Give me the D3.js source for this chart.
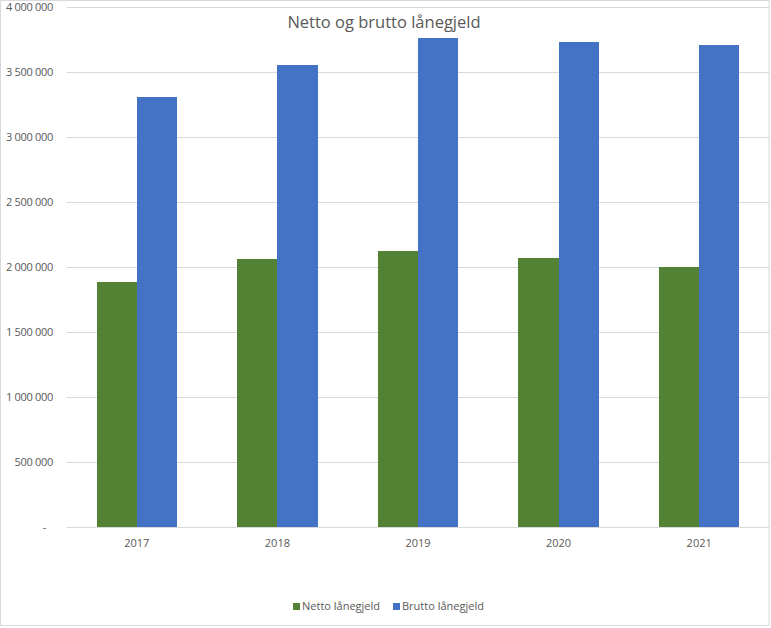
<!DOCTYPE html>
<html>
<head>
<meta charset="utf-8">
<script src="https://cdn.jsdelivr.net/npm/d3@7"></script>
<style>
  html, body { margin: 0; padding: 0; background: #fff; }
  svg { display: block; }
  text { font-family: "Open Sans", "Noto Sans", sans-serif; fill: #595959; }
</style>
</head>
<body>
<svg id="chart" width="771" height="628"></svg>
<script>
const years = ["2017", "2018", "2019", "2020", "2021"];
const netto = [1885000, 2062000, 2123000, 2069000, 2002000];
const brutto = [3308000, 3554000, 3762000, 3731000, 3706000];
const seriesNames = ["Netto lånegjeld", "Brutto lånegjeld"];
const seriesColors = ["#548235", "#4472c4"];
const yTicks = [0, 500000, 1000000, 1500000, 2000000, 2500000, 3000000, 3500000, 4000000];
const chartTitle = "Netto og brutto lånegjeld";

const svg = d3.select("#chart");
const plot = { left: 66.5, right: 769.5, top: 7, bottom: 527 };

// chart border
svg.append("rect")
  .attr("x", 0.5).attr("y", 0.5)
  .attr("width", 768.5).attr("height", 625)
  .attr("fill", "#fff").attr("stroke", "#d9d9d9").attr("stroke-width", 1);

const x0 = d3.scaleBand().domain(years).range([plot.left, plot.right]).paddingInner(0).paddingOuter(0);
const x1 = d3.scaleBand().domain([0, 1]).range([0, x0.bandwidth()]).paddingInner(0).paddingOuter(0.75);
const y = d3.scaleLinear().domain([0, 4000000]).range([plot.bottom, plot.top]);

const fmt = v => v === 0 ? "-" : d3.format(",")(v).replace(/,/g, " ");

// gridlines
svg.append("g").selectAll("line").data(yTicks.filter(t => t > 0)).join("line")
  .attr("x1", plot.left).attr("x2", plot.right)
  .attr("y1", d => Math.round(y(d)) + 0.5).attr("y2", d => Math.round(y(d)) + 0.5)
  .attr("stroke", "#d9d9d9").attr("stroke-width", 1);

// y labels
svg.append("g").selectAll("text").data(yTicks).join("text")
  .attr("x", d => d === 0 ? 46 : 53)
  .attr("y", d => y(d))
  .attr("dy", "0.35em")
  .attr("text-anchor", "end")
  .style("font-size", "11px")
  .style("letter-spacing", "-0.3px")
  .text(fmt);

// bars
const data = years.map((yr, i) => ({ year: yr, vals: [netto[i], brutto[i]] }));
const groups = svg.append("g").selectAll("g").data(data).join("g")
  .attr("transform", d => `translate(${x0(d.year)},0)`);
groups.selectAll("rect").data(d => d.vals.map((v, k) => ({ v, k }))).join("rect")
  .attr("x", d => x1(d.k))
  .attr("width", x1.bandwidth() + (0))
  .attr("y", d => y(d.v))
  .attr("height", d => y(0) - y(d.v))
  .attr("fill", d => seriesColors[d.k])
  .attr("shape-rendering", "crispEdges");

// x axis line
svg.append("line")
  .attr("x1", plot.left).attr("x2", plot.right)
  .attr("y1", plot.bottom + 0.5).attr("y2", plot.bottom + 0.5)
  .attr("stroke", "#d9d9d9").attr("stroke-width", 1);

// x labels
svg.append("g").selectAll("text").data(years).join("text")
  .attr("x", d => x0(d) + x0.bandwidth() / 2)
  .attr("y", 547)
  .attr("text-anchor", "middle")
  .style("font-size", "11px")
  .text(d => d);

// title
svg.append("text")
  .attr("x", 384).attr("y", 28)
  .attr("text-anchor", "middle")
  .style("font-size", "16.5px")
  .text(chartTitle);

// legend
const legendX = [293, 393];
const leg = svg.append("g").selectAll("g").data(seriesNames).join("g")
  .attr("transform", (d, i) => `translate(${legendX[i]},603)`);
leg.append("rect").attr("width", 7).attr("height", 7).attr("fill", (d, i) => seriesColors[i]);
leg.append("text").attr("x", 9).attr("y", 3.5).attr("dy", "0.35em")
  .style("font-size", "11px").text(d => d);
</script>
</body>
</html>
